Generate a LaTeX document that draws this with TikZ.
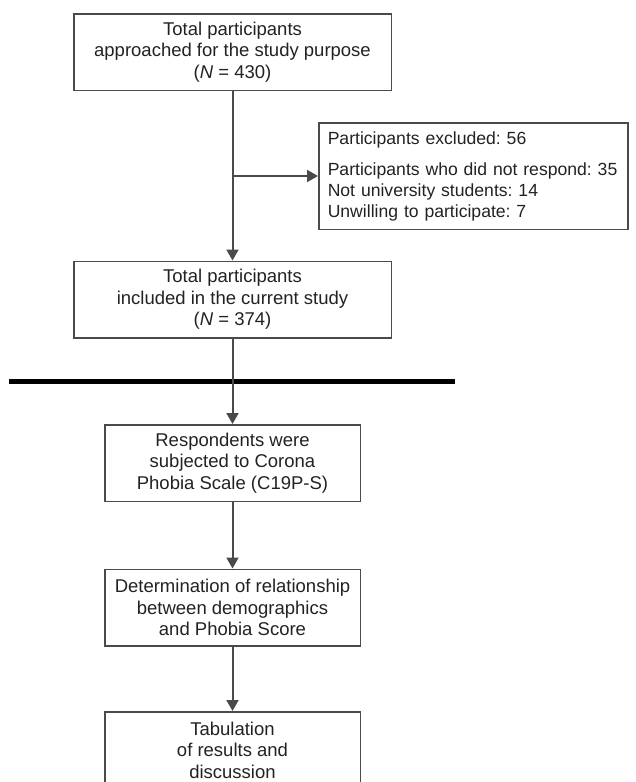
\documentclass[tikz,border=0pt]{standalone}
\usepackage{fontspec}
\setmainfont{Liberation Sans}
\usetikzlibrary{arrows.meta, positioning}
\definecolor{linegray}{HTML}{4A4A4A}
\definecolor{textgray}{HTML}{222222}
\frenchspacing

\begin{document}
\begin{tikzpicture}[
	x=1pt, y=-1pt,
	every node/.style={font=\fontsize{18.5}{21.5}\selectfont, text=textgray},
	flowbox/.style={rectangle, draw=linegray, line width=1.5pt, minimum height=76.5pt, align=center, inner sep=0pt},
	widebox/.style={flowbox, minimum width=317.5pt},
	narrowbox/.style={flowbox, minimum width=255.5pt},
	exclbox/.style={rectangle, draw=linegray, line width=1.5pt, minimum height=106.5pt, align=left, text width=291pt, inner xsep=9pt, anchor=north west, font=\fontsize{17.6}{21}\selectfont},
	arrow/.style={-{Triangle[width=12pt,length=11pt]}, draw=linegray, fill=linegray, line width=2pt},
	rule/.style={line width=5pt, black}
	]
	\useasboundingbox (0,0) rectangle (636,782);
	\clip (0,0) rectangle (636,782);

	\node[widebox] (approached) at (232.5,52) {Total participants\\ approached for the study purpose\\ (\textit{N} = 430)};
	\node[widebox, below=169.5pt of approached] (included) {Total participants\\ included in the current study\\ (\textit{N} = 374)};
	\node[exclbox] (excluded) at (318,122) {Participants excluded: 56\\[10pt] Participants who did not respond: 35\\ Not university students: 14\\ Unwilling to participate: 7};
	\node[narrowbox, below=85.5pt of included] (scale) {Respondents were\\ subjected to Corona\\ Phobia Scale (C19P-S)};
	\node[narrowbox, below=66.5pt of scale] (relation) {Determination of relationship\\ between demographics\\ and Phobia Score};
	\node[narrowbox, below=64.5pt of relation] (tabulation) {Tabulation\\ of results and\\ discussion};

	% excluded branch
	\coordinate (split) at (approached.south |- excluded.west);
	\draw[arrow] (approached) -- (included);
	\draw[arrow] (split) -- (excluded.west);

	% separator
	\coordinate (ruleL) at (9,381);
	\coordinate (ruleR) at (455,381);
	\draw[rule] (ruleL) -- (ruleR);

	\draw[arrow] (included) -- (scale);
	\draw[arrow] (scale) -- (relation);
	\draw[arrow] (relation) -- (tabulation);
\end{tikzpicture}
\end{document}
